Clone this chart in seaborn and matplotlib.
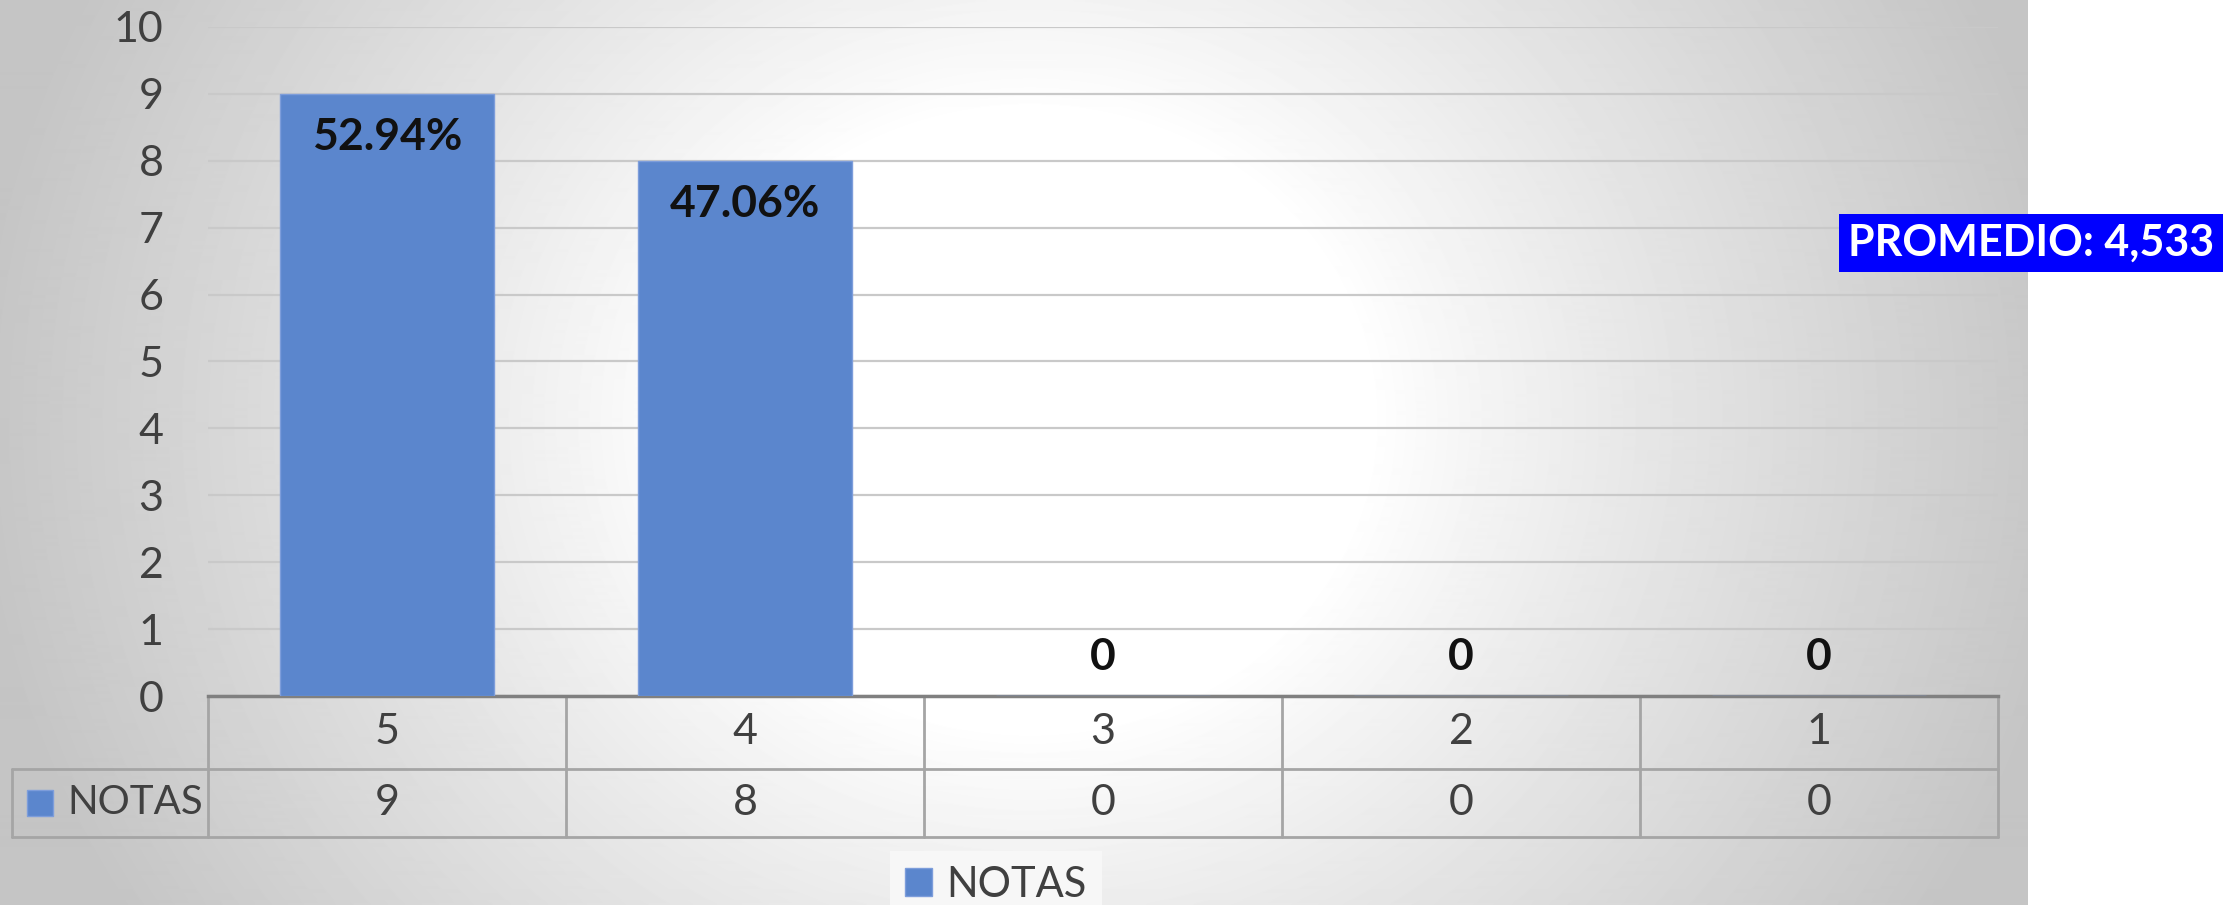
import numpy as np
import pandas as pd
import matplotlib
matplotlib.use('Agg')
import matplotlib.pyplot as plt
import seaborn as sns
from matplotlib.transforms import blended_transform_factory
from matplotlib.patches import Patch

categories = ['5', '4', '3', '2', '1']
notas = [9, 8, 0, 0, 0]
series_name = 'NOTAS'
promedio_text = 'PROMEDIO: 4,533'
y_ticks = list(range(0, 11))

sns.set_theme(style='white')
plt.rcParams['font.family'] = ['Lato', 'DejaVu Sans']

W, H = 2223, 905
fig = plt.figure(figsize=(W / 100, H / 100), dpi=100, facecolor='white')

# radial gradient background
bgw = 2028
yy, xx = np.mgrid[0:H, 0:bgw]
d = np.hypot(xx - 1030, (yy - 420) * 1.1)
val = 1 - 0.23 * np.clip((d - 340) / 720, 0, 1) ** 0.9
bg = fig.add_axes([0, 0, bgw / W, 1], zorder=-10)
bg.imshow(val, cmap='gray', vmin=0, vmax=1, aspect='auto', interpolation='bilinear')
bg.axis('off')

ax = fig.add_axes([208 / W, 1 - 696 / H, (1998 - 208) / W, (696 - 27) / H])
ax.patch.set_alpha(0)
df = pd.DataFrame({'cat': categories, 'val': notas})
bar_color = '#5B86CD'
sns.barplot(data=df, x='cat', y='val', order=categories, color=bar_color, width=0.6,
            saturation=1, ax=ax, edgecolor='#7d9ddb', linewidth=1, zorder=3)
ax.set_ylim(0, 10)
ax.set_xlim(-0.5, 4.5)
ax.set_yticks(y_ticks)
ax.yaxis.grid(True, color='#c9c9c9', linewidth=1.6, zorder=0)
ax.set_axisbelow(True)
for s in ['left', 'right', 'top']:
    ax.spines[s].set_visible(False)
ax.spines['bottom'].set_color('#808080')
ax.spines['bottom'].set_linewidth(2.5)
ax.tick_params(axis='y', length=0, pad=32, labelsize=31, labelcolor='#404040')
ax.tick_params(axis='x', length=0, labelbottom=False)
ax.set_xlabel('')
ax.set_ylabel('')

total = sum(notas)
for i, v in enumerate(notas):
    if v > 0:
        txt = f'{v / total * 100:.2f}%'
        y = v - 0.65
    else:
        txt = '0'
        y = 0.58
    ax.text(i, y, txt, ha='center', va='center', fontsize=32, fontweight='bold', color='#111111', zorder=5)

# data table
trans = blended_transform_factory(ax.transData, ax.transAxes)
r1 = -(769 - 696) / 669
r2 = -(837 - 696) / 669
hx = -0.5 - 196 / 358
lc = '#a5a5a5'
lw = 2
for k in range(len(categories) + 1):
    x = -0.5 + k
    ax.plot([x, x], [0, r2], transform=trans, color=lc, lw=lw, clip_on=False)
ax.plot([hx, 4.5], [r1, r1], transform=trans, color=lc, lw=lw, clip_on=False)
ax.plot([hx, 4.5], [r2, r2], transform=trans, color=lc, lw=lw, clip_on=False)
ax.plot([hx, hx], [r1, r2], transform=trans, color=lc, lw=lw, clip_on=False)
for i, c in enumerate(categories):
    ax.text(i, r1 / 2, c, transform=trans, ha='center', va='center', fontsize=31, color='#404040')
    ax.text(i, (r1 + r2) / 2, str(notas[i]), transform=trans, ha='center', va='center', fontsize=31, color='#404040')
ax.plot([-0.5 - (208 - 40) / 358], [(r1 + r2) / 2], transform=trans, marker='s', markersize=18.5,
        color=bar_color, markeredgecolor='#7d9ddb', clip_on=False, linestyle='none')
ax.text(-0.5 - 141 / 358, (r1 + r2) / 2, series_name, transform=trans, ha='left', va='center',
        fontsize=29, color='#404040')

# legend
fig.legend(handles=[Patch(facecolor=bar_color, edgecolor='#7d9ddb')], labels=[series_name],
           loc='upper center', bbox_to_anchor=(996 / W, 1 - 851 / H), fontsize=30, frameon=True,
           facecolor='#f7f7f7', edgecolor='none', fancybox=False, framealpha=1,
           handlelength=0.65, handleheight=0.65, borderpad=0.35, borderaxespad=0,
           handletextpad=0.35, labelcolor='#404040')

fig.text(2031 / W, 1 - 243 / H, promedio_text, ha='center', va='center', color='white',
         fontsize=31, fontweight='bold',
         bbox=dict(facecolor='#0000FF', edgecolor='none', boxstyle='square,pad=0.2'))

fig.savefig('out.png', dpi=100)
